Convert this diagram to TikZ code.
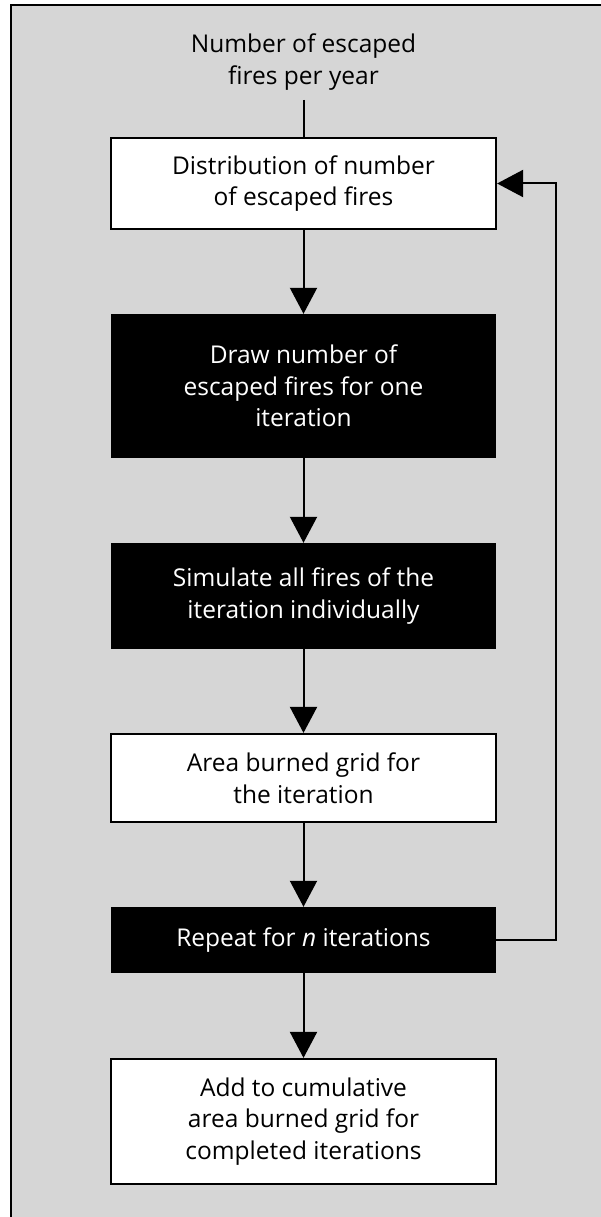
\documentclass[tikz,border=0pt]{standalone}
\usepackage{fontspec}
\setmainfont{Open Sans}
\usetikzlibrary{arrows.meta}
\definecolor{bggray}{RGB}{214,214,214}
\begin{document}
\begin{tikzpicture}[x=1pt,y=-1pt,
  every node/.style={font=\fontsize{24.5}{31.5}\selectfont, align=center, inner sep=0pt},
  whitebox/.style={draw=black, line width=2.2pt, fill=white, minimum width=385pt, text=black},
  blackbox/.style={fill=black, minimum width=385pt, text=white},
  conn/.style={line width=2pt, -{Triangle[length=26pt,width=27pt]}}]
\useasboundingbox (0,0) rectangle (601,1217);
\fill[bggray] (11,5) rectangle (601,1217);
\draw[line width=1.5pt] (11,1217) -- (11,5) -- (601,5);
\node (title) at (303.5,62) {Number of escaped\\fires per year};
\node[whitebox, minimum height=91pt] (b1) at (303.5,183.5) {Distribution of number\\of escaped fires};
\node[blackbox, minimum height=144pt] (b2) at (303.5,386) {Draw number of\\escaped fires for one\\iteration};
\node[blackbox, minimum height=106pt] (b3) at (303.5,596) {Simulate all fires of the\\iteration individually};
\node[whitebox, minimum height=88pt] (b4) at (303.5,778) {Area burned grid for\\the iteration};
\node[blackbox, minimum height=66pt] (b5) at (303.5,940) {Repeat for \textit{n} iterations};
\node[whitebox, minimum height=125pt] (b6) at (303.5,1121.5) {Add to cumulative\\area burned grid for\\completed iterations};
\coordinate (t1) at (303.5,100);
\coordinate (fb1) at (556,940);
\coordinate (fb2) at (556,183.5);
\draw[line width=2pt] (t1) -- (b1.north);
\draw[conn] (b1) -- (b2);
\draw[conn] (b2) -- (b3);
\draw[conn] (b3) -- (b4);
\draw[conn] (b4) -- (b5);
\draw[conn] (b5) -- (b6);
\draw[conn] (b5.east) -- (fb1) -- (fb2) -- (b1.east);
\end{tikzpicture}
\end{document}
